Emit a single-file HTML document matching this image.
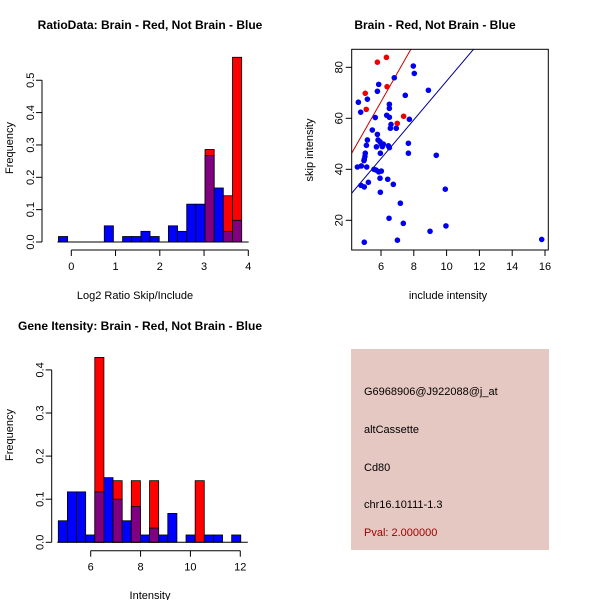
<!DOCTYPE html>
<html><head><meta charset="utf-8"><style>
html,body{margin:0;padding:0;background:#fff;}
svg{display:block;font-family:"Liberation Sans",sans-serif;}
text{font-size:11px;fill:#000;}
.t{font-weight:bold;font-size:12px;}
</style></head><body>
<svg id="s" width="600" height="600" viewBox="0 0 600 600">
<text class="t" x="150" y="29" text-anchor="middle">RatioData: Brain - Red, Not Brain - Blue</text>
<text class="t" x="435" y="29" text-anchor="middle">Brain - Red, Not Brain - Blue</text>
<text class="t" x="140" y="330" text-anchor="middle">Gene Itensity: Brain - Red, Not Brain - Blue</text>
<text x="135" y="299" text-anchor="middle">Log2 Ratio Skip/Include</text>
<text x="150" y="599" text-anchor="middle">Intensity</text>
<text x="448" y="299" text-anchor="middle">include intensity</text>
<text transform="translate(13,148) rotate(-90)" text-anchor="middle">Frequency</text>
<text transform="translate(13,435) rotate(-90)" text-anchor="middle">Frequency</text>
<text transform="translate(313,150) rotate(-90)" text-anchor="middle">skip intensity</text>
<rect x="351" y="349" width="198" height="201" fill="#e6c8c2"/>
<text x="364" y="395">G6968906@J922088@j_at</text>
<text x="364" y="433">altCassette</text>
<text x="364" y="471">Cd80</text>
<text x="364" y="508">chr16.10111-1.3</text>
<text x="364" y="536" fill="#a00000" style="fill:#a00000">Pval: 2.000000</text>
</svg>
<script>
// Ratio histogram data
const ratioBinStart = -0.29;
const ratioBinWidth = 0.207;
const ratioBlue = [0.017,0,0,0,0,0.05,0,0.017,0.017,0.033,0.017,0,0.05,0.033,0.117,0.117,0.267,0.167,0.033,0.067];
const ratioRed  = [0,0,0,0,0,0,0,0,0,0,0,0,0,0,0,0,0.286,0,0.143,0.571];
const ratioXTicks = [0,1,2,3,4];
const ratioYTicks = ["0.0","0.1","0.2","0.3","0.4","0.5"];
// Intensity histogram data
const intBinStart = 4.70;
const intBinWidth = 0.366;
const intBlue = [0.05,0.117,0.117,0.017,0.117,0.15,0.1,0.05,0.083,0.017,0.033,0.017,0.067,0,0.017,0,0.017,0.017,0,0.017];
const intRed  = [0,0,0,0,0.429,0,0.143,0,0.143,0,0.143,0,0,0,0,0.143,0,0,0,0];
const intXTicks = [6,8,10,12];
const intYTicks = ["0.0","0.1","0.2","0.3","0.4"];
// Scatter data
const redX = [5.78,6.33,5.04,5.10,6.37,7.38,6.99];
const redY = [82.0,83.9,69.8,63.5,72.4,60.8,58.0];
const blueX = [4.62,4.76,4.56,4.80,5.13,4.78,4.98,4.98,5.23,5.04,5.02,4.98,4.96,5.11,5.17,5.17,5.65,5.78,5.72,5.82,5.94,6.02,6.14,6.08,5.96,5.47,5.57,5.70,5.86,6.02,5.94,5.96,5.86,5.78,6.81,6.51,6.51,6.51,6.35,6.61,6.57,6.93,6.45,6.51,7.48,7.73,7.67,7.67,7.97,8.03,8.89,9.37,6.41,6.75,6.49,7.18,7.36,7.00,9.92,8.99,9.96,15.80];
const blueY = [66.3,62.4,40.9,41.3,40.9,33.7,33.1,11.4,34.9,46.3,45.0,43.9,43.4,49.4,51.5,67.5,60.3,53.7,48.8,51.5,50.8,49.9,49.9,48.9,46.3,55.4,40.0,39.7,39.0,39.3,36.5,31.0,73.3,70.6,75.9,65.5,63.9,60.4,61.2,57.6,56.1,56.1,49.2,48.5,69.0,59.6,50.2,46.3,80.5,77.6,71.0,45.5,36.1,34.1,20.8,26.7,18.8,12.2,32.2,15.7,17.8,12.5];
const redLine = [-1.3, 11.3];   // intercept, slope
const blueLine = [-1.4, 7.6];
const scatterXTicks = [6,8,10,12,14,16];
const scatterYTicks = [20,40,60,80];

const NS="http://www.w3.org/2000/svg";
const svg=document.getElementById('s');
function mk(tag,attrs,parent){const e=document.createElementNS(NS,tag);for(const k in attrs)e.setAttribute(k,attrs[k]);(parent||svg).appendChild(e);return e;}

function hist(o){
  const g=mk('g',{});
  
  
  const sx=v=>o.x0+(v-o.xv0)*o.kx, sy=v=>o.y0-v*o.ky;
  for(let i=0;i<o.blue.length;i++){
    const a=o.start+i*o.w, b=a+o.w, bl=o.blue[i], rd=o.red[i];
    const x=sx(a), wd=sx(b)-sx(a);
    const top=Math.max(bl,rd), low=Math.min(bl,rd);
    if(top<=0) continue;
    const c1 = rd>bl ? '#ff0000' : '#0000ff';
    const r1=mk('rect',{x:x,y:sy(top),width:wd,height:sy(0)-sy(top),fill:c1,stroke:'#000','stroke-width':0.8},g);
    
    
    if(low>0){
      const r2=mk('rect',{x:x,y:sy(low),width:wd,height:sy(0)-sy(low),fill:'#800080',stroke:'#000','stroke-width':0.8},g);
      
      
    }
  }
  const ya=mk('g',{},g);
  
  
  const yt=o.yticks.map(Number);
  mk('line',{x1:o.yax,x2:o.yax,y1:sy(yt[0]),y2:sy(yt[yt.length-1]),stroke:'#000'},ya);
  o.yticks.forEach(t=>{const y=sy(+t);mk('line',{x1:o.yax-6,x2:o.yax,y1:y,y2:y,stroke:'#000'},ya);
    const tx=mk('text',{transform:`translate(${o.yax-8},${y}) rotate(-90)`,'text-anchor':'middle'},ya);tx.textContent=t;});
  const xa=mk('g',{},g);
  
  
  mk('line',{x1:sx(o.xticks[0]),x2:sx(o.xticks[o.xticks.length-1]),y1:o.xax,y2:o.xax,stroke:'#000'},xa);
  o.xticks.forEach(t=>{const x=sx(t);mk('line',{x1:x,x2:x,y1:o.xax,y2:o.xax+6,stroke:'#000'},xa);
    const tx=mk('text',{x:x,y:o.xax+20,'text-anchor':'middle'},xa);tx.textContent=t;});
  mk('line',{x1:sx(o.start)-1,x2:sx(o.start+o.blue.length*o.w)+7,y1:o.y0,y2:o.y0,stroke:'#000'},g);
}
hist({name:'ratio-histogram',blue:ratioBlue,red:ratioRed,start:ratioBinStart,w:ratioBinWidth,x0:71.3,xv0:0,kx:44.25,y0:242,ky:323.5,yax:42,xax:250,xticks:ratioXTicks,yticks:ratioYTicks});
hist({name:'intensity-histogram',blue:intBlue,red:intRed,start:intBinStart,w:intBinWidth,x0:90.7,xv0:6,kx:24.93,y0:542.3,ky:431,yax:51.7,xax:550.7,xticks:intXTicks,yticks:intYTicks});

const sg=mk('g',{});


const L=351.7,R=548.3,T=49.3,B=250;
const px=v=>381+(v-6)*16.4, py=v=>67.3-(v-80)*2.55;
const cp=mk('clipPath',{id:'cp'},sg);mk('rect',{x:L,y:T,width:R-L,height:B-T},cp);
[[redLine,'#cc0000','red-fit-line'],[blueLine,'#00008b','blue-fit-line']].forEach(([ln,c,n])=>{
  const x1=2,x2=20;
  const l=mk('line',{x1:px(x1),y1:py(ln[0]+ln[1]*x1),x2:px(x2),y2:py(ln[0]+ln[1]*x2),stroke:c,'stroke-width':1,'clip-path':'url(#cp)'},sg);
  
  
});
blueX.forEach((x,i)=>{const c=mk('circle',{cx:px(x),cy:py(blueY[i]),r:2.8,fill:'#0000ee'},sg);
  
  });
redX.forEach((x,i)=>{const c=mk('circle',{cx:px(x),cy:py(redY[i]),r:2.8,fill:'#ee0000'},sg);
  
  });
const box=mk('rect',{x:L,y:T,width:R-L,height:B-T,fill:'none',stroke:'#000'},sg);


const sxa=mk('g',{},sg);


scatterXTicks.forEach(t=>{const x=px(t);mk('line',{x1:x,x2:x,y1:B,y2:B+6,stroke:'#000'},sxa);
  const tx=mk('text',{x:x,y:B+20,'text-anchor':'middle'},sxa);tx.textContent=t;});
const sya=mk('g',{},sg);


scatterYTicks.forEach(t=>{const y=py(t);mk('line',{x1:L-6,x2:L,y1:y,y2:y,stroke:'#000'},sya);
  const tx=mk('text',{transform:`translate(${L-9},${y}) rotate(-90)`,'text-anchor':'middle'},sya);tx.textContent=t;});
</script>
</body></html>
